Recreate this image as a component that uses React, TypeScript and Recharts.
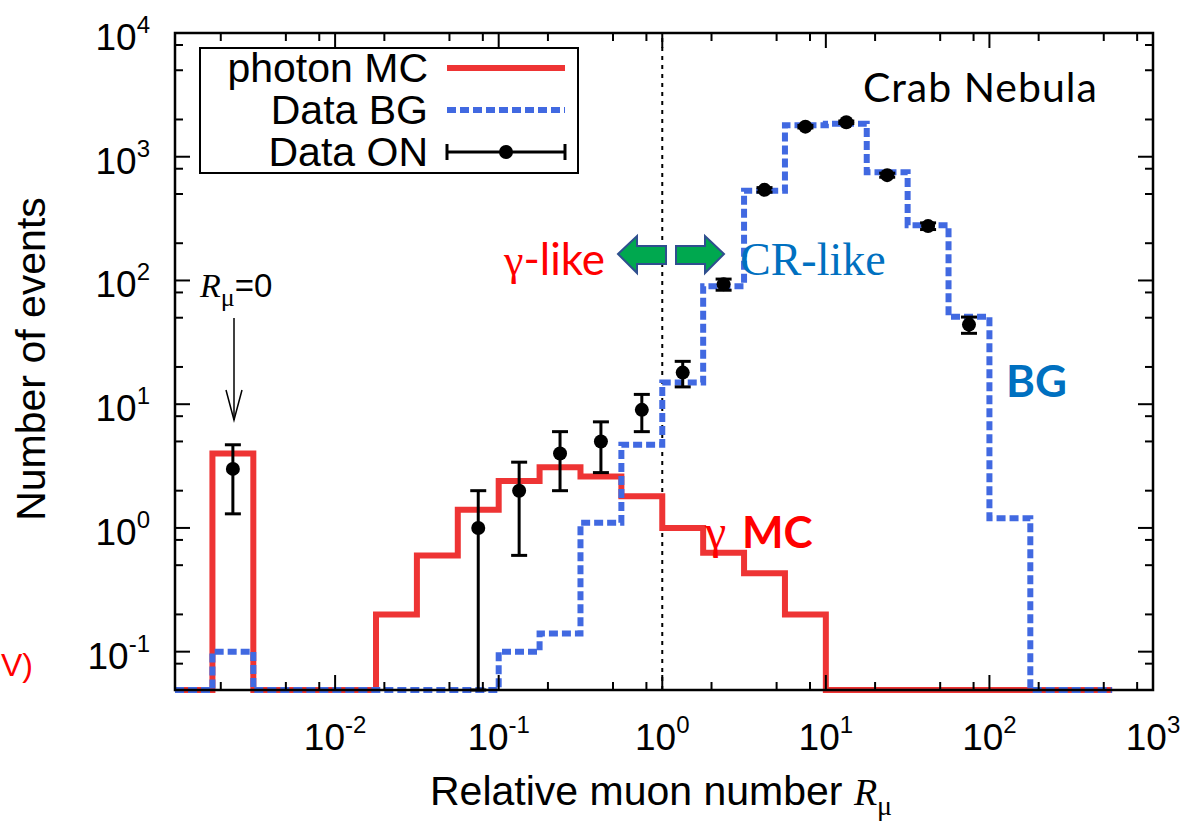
import React from "react";
import {
  ComposedChart,
  Line,
  Scatter,
  ErrorBar,
  XAxis,
  YAxis,
  ReferenceLine,
} from "recharts";

const WIDTH = 1188;
const HEIGHT = 823;
const PLOT = { left: 175, top: 33, right: 1153, bottom: 690 };

const X_DOMAIN: [number, number] = [0.00105, 1000];
const Y_DOMAIN: [number, number] = [0.049, 10000];

// log10 of the histogram bin edges; the R_mu = 0 events are put in the first bin
const binEdgeExp = [
  -2.75, -2.5, -2.25, -2, -1.75, -1.5, -1.25, -1, -0.75, -0.5, -0.25, 0, 0.25,
  0.5, 0.75, 1, 1.25, 1.5, 1.75, 2, 2.25, 2.5, 2.75,
];
const photonMC = [
  4, 0, 0, 0, 0.2, 0.6, 1.4, 2.4, 3.1, 2.6, 1.8, 1.0, 0.63, 0.43, 0.2, 0, 0, 0,
  0, 0, 0, 0,
];
const dataBG = [
  0.1, 0, 0, 0, 0, 0, 0, 0.1, 0.14, 1.1, 4.7, 15, 90, 530, 1800, 1850, 750, 280,
  51, 1.2, 0, 0,
];

// ON-source counts at the bin centres (log10 R_mu)
const onBinExp = [
  -2.625, -1.125, -0.875, -0.625, -0.375, -0.125, 0.125, 0.375, 0.625, 0.875,
  1.125, 1.375, 1.625, 1.875,
];
const onCounts = [3, 1, 2, 4, 5, 9, 18, 93, 540, 1750, 1900, 710, 275, 44];
const onErrLow = [1.7, 0.951, 1.4, 2, 2.2, 3, 4.2, 9.6, 23, 42, 44, 27, 17, 6.6];
const onErrHigh = [1.7, 1, 1.4, 2, 2.2, 3, 4.2, 9.6, 23, 42, 44, 27, 17, 6.6];

const xMajorTicks = [0.01, 0.1, 1, 10, 100, 1000];
const xMajorLabels = ["-2", "-1", "0", "1", "2", "3"];
const yMajorTicks = [0.1, 1, 10, 100, 1000, 10000];
const yMajorLabels = ["-1", "0", "1", "2", "3", "4"];
const minorSteps = [2, 5, 8];

const SANS = "'Liberation Sans', Arial, sans-serif";
const SERIF = "'Liberation Serif', 'Times New Roman', serif";
const CALIBRI_LIKE = "Lato, 'Open Sans', sans-serif";

const RED = "#ee3434";
const BLUE = "#4169e1";
const LABEL_BLUE = "#0070c0";

function minorTicks(lo: number, hi: number) {
  const out: number[] = [];
  for (let e = -3; e <= 3; e++) {
    for (const s of minorSteps) {
      const v = s * 10 ** e;
      if (v > lo && v < hi) out.push(v);
    }
  }
  return out;
}

const xTicks = [...xMajorTicks, ...minorTicks(X_DOMAIN[0], X_DOMAIN[1])].sort(
  (a, b) => a - b
);
const yTicks = [...yMajorTicks, ...minorTicks(0.06, Y_DOMAIN[1])].sort(
  (a, b) => a - b
);

function stepSeries(counts: number[]) {
  const floor = Y_DOMAIN[0];
  const pts = [{ x: X_DOMAIN[0], y: floor }];
  counts.forEach((c, i) => {
    pts.push({ x: 10 ** binEdgeExp[i], y: c > 0 ? c : floor });
  });
  pts.push({ x: 10 ** binEdgeExp[binEdgeExp.length - 1], y: floor });
  return pts;
}

const mcSteps = stepSeries(photonMC);
const bgSteps = stepSeries(dataBG);
const onPoints = onBinExp.map((e, i) => ({
  x: 10 ** e,
  y: onCounts[i],
  err: [onErrLow[i], onErrHigh[i]],
}));

const XTick = (props: any) => {
  const cx = props.payload.coordinate;
  const idx = xMajorTicks.indexOf(props.payload.value);
  const len = idx >= 0 ? 15 : 8;
  return (
    <g>
      <line x1={cx} x2={cx} y1={PLOT.bottom} y2={PLOT.bottom - len} stroke="#000" strokeWidth={2} />
      <line x1={cx} x2={cx} y1={PLOT.top} y2={PLOT.top + len} stroke="#000" strokeWidth={2} />
      {idx >= 0 && (
        <text x={cx} y={PLOT.bottom + 60} textAnchor="middle" fontFamily={SANS} fontSize={37} fill="#000">
          10
          <tspan fontSize={24} dy={-17}>
            {xMajorLabels[idx]}
          </tspan>
        </text>
      )}
    </g>
  );
};

const YTick = (props: any) => {
  const cy = props.payload.coordinate;
  const idx = yMajorTicks.indexOf(props.payload.value);
  const len = idx >= 0 ? 15 : 8;
  return (
    <g>
      <line x1={PLOT.left} x2={PLOT.left + len} y1={cy} y2={cy} stroke="#000" strokeWidth={2} />
      <line x1={PLOT.right} x2={PLOT.right - len} y1={cy} y2={cy} stroke="#000" strokeWidth={2} />
      {idx >= 0 && (
        <text x={150} y={cy + 17} textAnchor="end" fontFamily={SANS} fontSize={37} fill="#000">
          10
          <tspan fontSize={24} dy={-17}>
            {yMajorLabels[idx]}
          </tspan>
        </text>
      )}
    </g>
  );
};

function Annotations() {
  return (
    <svg
      width={WIDTH}
      height={HEIGHT}
      style={{ position: "absolute", left: 0, top: 0, pointerEvents: "none" }}
    >
      <rect
        x={PLOT.left}
        y={PLOT.top}
        width={PLOT.right - PLOT.left}
        height={PLOT.bottom - PLOT.top}
        fill="none"
        stroke="#000"
        strokeWidth={2.5}
      />

      {/* legend */}
      <rect x={200} y={48} width={378} height={125} fill="#fff" stroke="#000" strokeWidth={2} />
      <g fontFamily={SANS} fontSize={41} fill="#000" textAnchor="end">
        <text x={428} y={82}>photon MC</text>
        <text x={428} y={124}>Data BG</text>
        <text x={428} y={166}>Data ON</text>
      </g>
      <line x1={447} x2={565} y1={68} y2={68} stroke={RED} strokeWidth={6} />
      <line x1={447} x2={565} y1={110} y2={110} stroke={BLUE} strokeWidth={6} strokeDasharray="9 4" />
      <line x1={447} x2={565} y1={152} y2={152} stroke="#000" strokeWidth={3} />
      <line x1={447} x2={447} y1={144} y2={160} stroke="#000" strokeWidth={3} />
      <line x1={565} x2={565} y1={144} y2={160} stroke="#000" strokeWidth={3} />
      <circle cx={506} cy={152} r={7} fill="#000" />

      <text x={863} y={102} fontFamily={CALIBRI_LIKE} fontSize={41} letterSpacing={1} fill="#000">
        Crab Nebula
      </text>

      <text x={504} y={275} fontSize={44} fill="#ff0000" fontFamily={CALIBRI_LIKE}>
        <tspan fontFamily={SERIF}>γ</tspan>-like
      </text>
      <text x={740} y={275} fontSize={46} fill={LABEL_BLUE} fontFamily={SERIF}>
        CR-like
      </text>

      {/* gamma-like / CR-like arrows */}
      <polygon
        points="618,254 637,236 637,246 666,246 666,264 637,264 637,273"
        fill="#00a84f"
        stroke="#2f4f8f"
        strokeWidth={2}
      />
      <polygon
        points="724,254 705,236 705,246 676,246 676,264 705,264 705,273"
        fill="#00a84f"
        stroke="#2f4f8f"
        strokeWidth={2}
      />

      <text x={1006} y={397} fontFamily={CALIBRI_LIKE} fontWeight={700} fontSize={44} fill={LABEL_BLUE}>
        BG
      </text>
      <text x={705} y={548} fill="#ff0000">
        <tspan fontFamily={SERIF} fontSize={48}>γ</tspan>
        <tspan x={742} fontFamily={CALIBRI_LIKE} fontWeight={700} fontSize={44}>
          MC
        </tspan>
      </text>

      {/* R_mu = 0 marker */}
      <text x={200} y={297} fontSize={33} fill="#000">
        <tspan fontFamily={SERIF} fontStyle="italic" fontSize={34}>R</tspan>
        <tspan fontFamily={SERIF} fontSize={26} dy={9}>μ</tspan>
        <tspan fontFamily={SANS} dy={-9}>=0</tspan>
      </text>
      <line x1={234} x2={234} y1={318} y2={420} stroke="#000" strokeWidth={1.5} />
      <polyline points="226,390 234,420 242,390" fill="none" stroke="#000" strokeWidth={1.5} />

      <text x={1} y={676} fontFamily={SANS} fontSize={32} fill="#ff0000">
        V)
      </text>

      {/* axis titles */}
      <text
        x={45}
        y={359}
        transform="rotate(-90 45 359)"
        textAnchor="middle"
        fontFamily={SANS}
        fontSize={41}
        fill="#000"
      >
        Number of events
      </text>
      <text x={430} y={805} fontFamily={SANS} fontSize={41} fill="#000">
        Relative muon number{" "}
        <tspan fontFamily={SERIF} fontStyle="italic" fontSize={38}>R</tspan>
        <tspan fontFamily={SERIF} fontSize={28} dy={10}>μ</tspan>
      </text>
    </svg>
  );
}

export default function App() {
  return (
    <div style={{ position: "absolute", left: 0, top: 0, width: WIDTH, height: HEIGHT, background: "#fff" }}>
      <ComposedChart
        width={WIDTH}
        height={HEIGHT}
        margin={{ top: PLOT.top, right: WIDTH - PLOT.right, bottom: 0, left: 0 }}
      >
        <XAxis
          dataKey="x"
          type="number"
          scale="log"
          domain={X_DOMAIN}
          ticks={xTicks}
          interval={0}
          height={HEIGHT - PLOT.bottom}
          axisLine={false}
          tickLine={false}
          tick={<XTick />}
        />
        <YAxis
          type="number"
          scale="log"
          domain={Y_DOMAIN}
          ticks={yTicks}
          interval={0}
          width={PLOT.left}
          axisLine={false}
          tickLine={false}
          tick={<YTick />}
        />
        <ReferenceLine x={1} stroke="#000" strokeWidth={2} strokeDasharray="4 5" />
        <Line
          data={mcSteps}
          dataKey="y"
          type="stepAfter"
          stroke={RED}
          strokeWidth={6}
          dot={false}
          activeDot={false}
          isAnimationActive={false}
        />
        <Line
          data={bgSteps}
          dataKey="y"
          type="stepAfter"
          stroke={BLUE}
          strokeWidth={6}
          strokeDasharray="9 4"
          dot={false}
          activeDot={false}
          isAnimationActive={false}
        />
        <Scatter
          data={onPoints}
          dataKey="y"
          isAnimationActive={false}
          shape={(p: any) => <circle cx={p.cx} cy={p.cy} r={7} fill="#000" />}
        >
          <ErrorBar dataKey="err" direction="y" width={8} stroke="#000" strokeWidth={3} />
        </Scatter>
      </ComposedChart>
      <Annotations />
    </div>
  );
}
